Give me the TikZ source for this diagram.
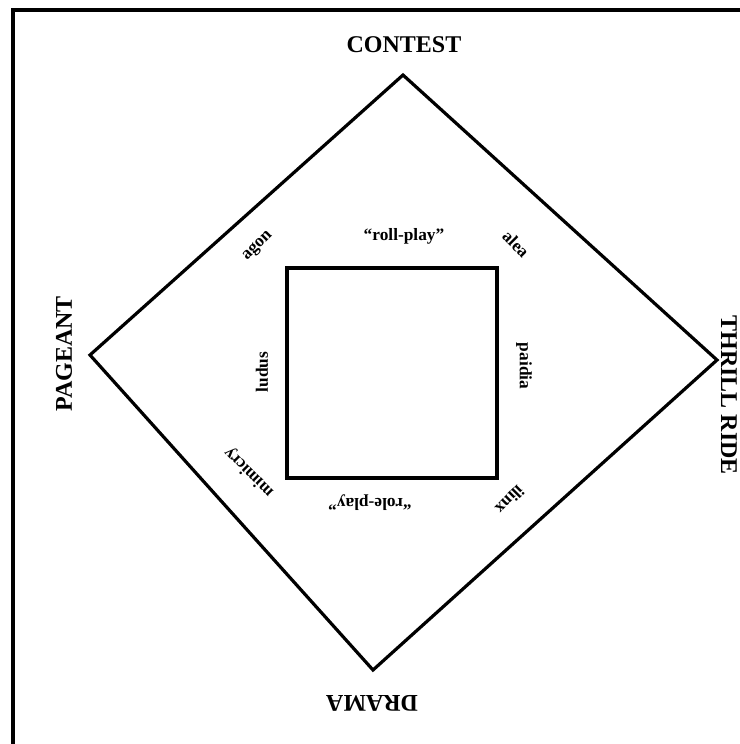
\documentclass[tikz,border=0pt]{standalone}
\usepackage{fontspec}
\setmainfont{Liberation Serif}
\usetikzlibrary{positioning,calc}
\tikzset{
  bigLabel/.style={font=\fontsize{18}{20}\selectfont\bfseries, inner sep=0pt},
  smallLabel/.style={font=\fontsize{13}{15}\selectfont\bfseries, inner sep=0pt},
  diamondLine/.style={draw=black, line width=2.4pt, line join=miter},
  squareLine/.style={draw=black, line width=3pt}
}

\begin{document}
\begin{tikzpicture}[x=0.75pt,y=-0.75pt]
  \useasboundingbox (0,0) rectangle (740,744);
  % frame
  \draw[line width=3pt] (13,10) rectangle (760,760);

  % corners of the diamond
  \coordinate (top) at (403,75);
  \coordinate (right) at (717,360);
  \coordinate (bottom) at (373,670);
  \coordinate (left) at (90,355);
  \draw[diamondLine] (top) -- (right) -- (bottom) -- (left) -- cycle;

  % inner square
  \coordinate (sqA) at (287,268);
  \coordinate (sqB) at (497,478);
  \draw[squareLine] (sqA) rectangle (sqB);

  % outer labels
  \node[bigLabel] (contest) at (404,45) {CONTEST};
  \node[bigLabel, rotate=-90] (thrill) at (729,395) {THRILL RIDE};
  \node[bigLabel, rotate=180] (drama) at (372,703) {DRAMA};
  \node[bigLabel, rotate=90] (pageant) at (64,354) {PAGEANT};

  % inner labels
  \node[smallLabel] (rollplay) at (404,236) {``roll-play''};
  \node[smallLabel, rotate=180] (roleplay) at (370,503) {``role-play''};
  \node[smallLabel, rotate=90] (ludus) at (262,372) {ludus};
  \node[smallLabel, rotate=-90] (paidia) at (524,366) {paidia};
  \node[smallLabel, rotate=45] (agon) at (258,246) {agon};
  \node[smallLabel, rotate=-45] (alea) at (516,244) {alea};
  \node[smallLabel, rotate=135] (mimicry) at (249,472) {mimicry};
  \node[smallLabel, rotate=-135] (ilinx) at (510,500) {ilinx};
\end{tikzpicture}
\end{document}
